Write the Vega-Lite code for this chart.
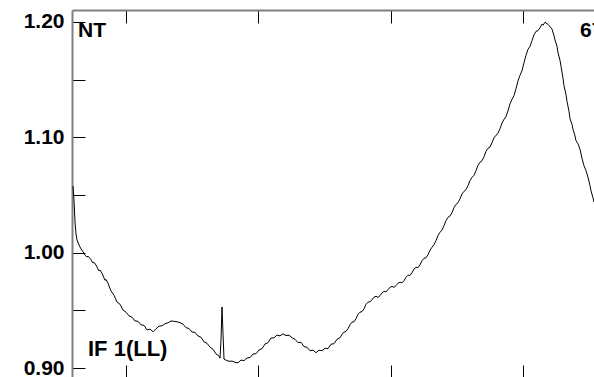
{
  "$schema": "https://vega.github.io/schema/vega-lite/v6.json",
  "autosize": "none",
  "padding": {"left": 72, "top": 10, "right": 0, "bottom": 0},
  "width": 522,
  "height": 367,
  "background": "white",
  "title": {"text": "Normalised spectrum with bandpass applied", "anchor": "start", "dx": -90, "offset": 5, "baseline": "alphabetic", "fontSize": 15, "fontWeight": "bold", "font": "Liberation Sans", "color": "black"},
  "config": {"view": {"stroke": null}, "font": "Liberation Sans"},
  "datasets": {
    "spectrum": [
      {"channel": 1, "ratio": 1.0578}, {"channel": 2, "ratio": 1.0457}, {"channel": 3, "ratio": 1.0266},
      {"channel": 4, "ratio": 1.0162}, {"channel": 5, "ratio": 1.0110}, {"channel": 7, "ratio": 1.0067},
      {"channel": 9, "ratio": 1.0032}, {"channel": 12, "ratio": 0.9995}, {"channel": 13, "ratio": 0.9978},
      {"channel": 15, "ratio": 0.9962}, {"channel": 16, "ratio": 0.9969},
      {"channel": 18, "ratio": 0.9952}, {"channel": 21, "ratio": 0.9910}, {"channel": 22, "ratio": 0.9917}, {"channel": 24, "ratio": 0.9893},
      {"channel": 27, "ratio": 0.9841}, {"channel": 28, "ratio": 0.9849}, {"channel": 30, "ratio": 0.9822}, {"channel": 33, "ratio": 0.9760},
      {"channel": 34, "ratio": 0.9768}, {"channel": 36, "ratio": 0.9735}, {"channel": 39, "ratio": 0.9668}, {"channel": 42, "ratio": 0.9631},
      {"channel": 45, "ratio": 0.9572}, {"channel": 48, "ratio": 0.9553}, {"channel": 51, "ratio": 0.9503},
      {"channel": 54, "ratio": 0.9484}, {"channel": 57, "ratio": 0.9452}, {"channel": 60, "ratio": 0.9441},
      {"channel": 63, "ratio": 0.9408}, {"channel": 66, "ratio": 0.9405}, {"channel": 69, "ratio": 0.9374},
      {"channel": 72, "ratio": 0.9370}, {"channel": 75, "ratio": 0.9330}, {"channel": 78, "ratio": 0.9338},
      {"channel": 81, "ratio": 0.9314}, {"channel": 84, "ratio": 0.9340}, {"channel": 87, "ratio": 0.9363},
      {"channel": 90, "ratio": 0.9366}, {"channel": 93, "ratio": 0.9384}, {"channel": 96, "ratio": 0.9392},
      {"channel": 99, "ratio": 0.9408}, {"channel": 102, "ratio": 0.9405}, {"channel": 105, "ratio": 0.9401},
      {"channel": 108, "ratio": 0.9393}, {"channel": 111, "ratio": 0.9380}, {"channel": 114, "ratio": 0.9349},
      {"channel": 117, "ratio": 0.9343}, {"channel": 120, "ratio": 0.9312}, {"channel": 123, "ratio": 0.9309},
      {"channel": 126, "ratio": 0.9278}, {"channel": 129, "ratio": 0.9266}, {"channel": 132, "ratio": 0.9227},
      {"channel": 135, "ratio": 0.9214}, {"channel": 138, "ratio": 0.9181}, {"channel": 141, "ratio": 0.9163},
      {"channel": 144, "ratio": 0.9122}, {"channel": 147, "ratio": 0.9104}, {"channel": 148, "ratio": 0.9085},
      {"channel": 149, "ratio": 0.9243}, {"channel": 150, "ratio": 0.9529}, {"channel": 151, "ratio": 0.9300},
      {"channel": 152, "ratio": 0.9078}, {"channel": 154, "ratio": 0.9068}, {"channel": 157, "ratio": 0.9058},
      {"channel": 160, "ratio": 0.9060}, {"channel": 163, "ratio": 0.9050}, {"channel": 166, "ratio": 0.9045},
      {"channel": 169, "ratio": 0.9069}, {"channel": 172, "ratio": 0.9064}, {"channel": 175, "ratio": 0.9087},
      {"channel": 178, "ratio": 0.9090}, {"channel": 181, "ratio": 0.9121}, {"channel": 184, "ratio": 0.9124},
      {"channel": 187, "ratio": 0.9156}, {"channel": 190, "ratio": 0.9168}, {"channel": 193, "ratio": 0.9208},
      {"channel": 196, "ratio": 0.9219}, {"channel": 199, "ratio": 0.9260}, {"channel": 202, "ratio": 0.9262},
      {"channel": 205, "ratio": 0.9285}, {"channel": 208, "ratio": 0.9279}, {"channel": 211, "ratio": 0.9296},
      {"channel": 214, "ratio": 0.9281}, {"channel": 217, "ratio": 0.9284}, {"channel": 220, "ratio": 0.9263},
      {"channel": 223, "ratio": 0.9249}, {"channel": 226, "ratio": 0.9220}, {"channel": 229, "ratio": 0.9223},
      {"channel": 232, "ratio": 0.9185}, {"channel": 235, "ratio": 0.9180}, {"channel": 238, "ratio": 0.9150},
      {"channel": 241, "ratio": 0.9155}, {"channel": 244, "ratio": 0.9133}, {"channel": 247, "ratio": 0.9154},
      {"channel": 250, "ratio": 0.9150}, {"channel": 253, "ratio": 0.9171}, {"channel": 256, "ratio": 0.9168},
      {"channel": 259, "ratio": 0.9206}, {"channel": 262, "ratio": 0.9211}, {"channel": 265, "ratio": 0.9249},
      {"channel": 268, "ratio": 0.9263}, {"channel": 270, "ratio": 0.9292}, {"channel": 272, "ratio": 0.9311}, {"channel": 274, "ratio": 0.9318}, {"channel": 276, "ratio": 0.9341},
      {"channel": 278, "ratio": 0.9375}, {"channel": 280, "ratio": 0.9397}, {"channel": 282, "ratio": 0.9401}, {"channel": 284, "ratio": 0.9428}, {"channel": 286, "ratio": 0.9466}, {"channel": 288, "ratio": 0.9484},
      {"channel": 290, "ratio": 0.9489}, {"channel": 292, "ratio": 0.9513}, {"channel": 294, "ratio": 0.9552}, {"channel": 296, "ratio": 0.9571}, {"channel": 298, "ratio": 0.9575}, {"channel": 300, "ratio": 0.9591},
      {"channel": 302, "ratio": 0.9614}, {"channel": 304, "ratio": 0.9622}, {"channel": 306, "ratio": 0.9612}, {"channel": 308, "ratio": 0.9627}, {"channel": 310, "ratio": 0.9651}, {"channel": 312, "ratio": 0.9665},
      {"channel": 314, "ratio": 0.9660}, {"channel": 316, "ratio": 0.9679}, {"channel": 318, "ratio": 0.9700}, {"channel": 320, "ratio": 0.9708}, {"channel": 322, "ratio": 0.9699}, {"channel": 324, "ratio": 0.9714},
      {"channel": 326, "ratio": 0.9735}, {"channel": 328, "ratio": 0.9744}, {"channel": 330, "ratio": 0.9739}, {"channel": 332, "ratio": 0.9756}, {"channel": 334, "ratio": 0.9787}, {"channel": 336, "ratio": 0.9805},
      {"channel": 338, "ratio": 0.9803}, {"channel": 340, "ratio": 0.9826}, {"channel": 342, "ratio": 0.9858}, {"channel": 344, "ratio": 0.9873}, {"channel": 346, "ratio": 0.9870}, {"channel": 348, "ratio": 0.9895},
      {"channel": 350, "ratio": 0.9930}, {"channel": 352, "ratio": 0.9951}, {"channel": 354, "ratio": 0.9955}, {"channel": 356, "ratio": 0.9983}, {"channel": 358, "ratio": 1.0021}, {"channel": 360, "ratio": 1.0047},
      {"channel": 362, "ratio": 1.0069}, {"channel": 364, "ratio": 1.0104}, {"channel": 366, "ratio": 1.0149}, {"channel": 368, "ratio": 1.0177}, {"channel": 370, "ratio": 1.0196}, {"channel": 372, "ratio": 1.0234},
      {"channel": 374, "ratio": 1.0278}, {"channel": 376, "ratio": 1.0307}, {"channel": 378, "ratio": 1.0318}, {"channel": 380, "ratio": 1.0347}, {"channel": 382, "ratio": 1.0391}, {"channel": 384, "ratio": 1.0419},
      {"channel": 386, "ratio": 1.0433}, {"channel": 388, "ratio": 1.0468}, {"channel": 390, "ratio": 1.0509}, {"channel": 392, "ratio": 1.0532}, {"channel": 394, "ratio": 1.0547}, {"channel": 396, "ratio": 1.0581},
      {"channel": 398, "ratio": 1.0625}, {"channel": 400, "ratio": 1.0653}, {"channel": 402, "ratio": 1.0671}, {"channel": 404, "ratio": 1.0711}, {"channel": 406, "ratio": 1.0756}, {"channel": 408, "ratio": 1.0784},
      {"channel": 410, "ratio": 1.0797}, {"channel": 412, "ratio": 1.0832}, {"channel": 414, "ratio": 1.0879}, {"channel": 416, "ratio": 1.0905}, {"channel": 418, "ratio": 1.0916}, {"channel": 420, "ratio": 1.0954},
      {"channel": 422, "ratio": 1.0996}, {"channel": 424, "ratio": 1.1018}, {"channel": 426, "ratio": 1.1035}, {"channel": 428, "ratio": 1.1075}, {"channel": 430, "ratio": 1.1124}, {"channel": 432, "ratio": 1.1156},
      {"channel": 434, "ratio": 1.1180}, {"channel": 436, "ratio": 1.1231}, {"channel": 438, "ratio": 1.1290}, {"channel": 440, "ratio": 1.1330}, {"channel": 442, "ratio": 1.1362}, {"channel": 444, "ratio": 1.1422},
      {"channel": 446, "ratio": 1.1490}, {"channel": 448, "ratio": 1.1538}, {"channel": 450, "ratio": 1.1578}, {"channel": 452, "ratio": 1.1647}, {"channel": 454, "ratio": 1.1712}, {"channel": 456, "ratio": 1.1763},
      {"channel": 458, "ratio": 1.1789}, {"channel": 460, "ratio": 1.1838}, {"channel": 462, "ratio": 1.1889}, {"channel": 464, "ratio": 1.1919}, {"channel": 466, "ratio": 1.1925}, {"channel": 468, "ratio": 1.1950},
      {"channel": 470, "ratio": 1.1981}, {"channel": 471, "ratio": 1.1972}, {"channel": 473, "ratio": 1.1998}, {"channel": 474, "ratio": 1.1991}, {"channel": 476, "ratio": 1.1979}, {"channel": 477, "ratio": 1.1968},
      {"channel": 479, "ratio": 1.1951}, {"channel": 480, "ratio": 1.1938}, {"channel": 482, "ratio": 1.1881}, {"channel": 483, "ratio": 1.1844}, {"channel": 485, "ratio": 1.1790}, {"channel": 486, "ratio": 1.1733},
      {"channel": 488, "ratio": 1.1668}, {"channel": 489, "ratio": 1.1617}, {"channel": 491, "ratio": 1.1511}, {"channel": 492, "ratio": 1.1447}, {"channel": 494, "ratio": 1.1371}, {"channel": 495, "ratio": 1.1312},
      {"channel": 497, "ratio": 1.1225}, {"channel": 498, "ratio": 1.1161}, {"channel": 500, "ratio": 1.1112}, {"channel": 501, "ratio": 1.1070}, {"channel": 503, "ratio": 1.1012}, {"channel": 504, "ratio": 1.0971},
      {"channel": 506, "ratio": 1.0944}, {"channel": 508, "ratio": 1.0896}, {"channel": 510, "ratio": 1.0817}, {"channel": 512, "ratio": 1.0754}, {"channel": 514, "ratio": 1.0712}, {"channel": 516, "ratio": 1.0653},
      {"channel": 518, "ratio": 1.0580}, {"channel": 519, "ratio": 1.0537}, {"channel": 521, "ratio": 1.0475}, {"channel": 522, "ratio": 1.0439}
    ],
    "labels": [
      {"channel": 6, "ratio": 1.2017, "label": "NT", "pos": "left"},
      {"channel": 508, "ratio": 1.2017, "label": "67", "pos": "left"},
      {"channel": 16, "ratio": 0.9104, "label": "IF 1(LL)", "pos": "bottom"}
    ]
  },
  "resolve": {"axis": {"x": "independent"}},
  "layer": [
    {
      "data": {"name": "spectrum"},
      "mark": {"type": "line", "color": "black", "strokeWidth": 1, "clip": true},
      "encoding": {
        "x": {"field": "channel", "type": "quantitative",
              "scale": {"domain": [0, 522], "nice": false, "zero": false},
              "axis": {"orient": "bottom", "values": [54, 186, 319, 451], "labels": false, "domain": false,
                       "grid": false, "title": null, "tickSize": -12, "tickColor": "black", "tickWidth": 1}},
        "y": {"field": "ratio", "type": "quantitative",
              "scale": {"domain": [0.8922, 1.2104], "nice": false, "zero": false},
              "axis": {"orient": "left", "values": [0.9, 0.95, 1.0, 1.05, 1.1, 1.15, 1.2], "grid": false,
                       "title": null, "format": ".2f",
                       "labelExpr": "round(datum.value*100) % 10 == 0 ? datum.label : ''",
                       "tickSize": -13, "tickColor": "black", "tickWidth": 1,
                       "domainColor": "#808080", "domainWidth": 2,
                       "labelFont": "Liberation Sans", "labelFontSize": 21, "labelFontWeight": "bold",
                       "labelColor": "black", "labelPadding": 21, "labelBaseline": "middle"}}
      }
    },
    {
      "data": {"name": "labels"},
      "mark": {"type": "text", "align": "left", "baseline": "top", "font": "Liberation Sans", "fontSize": 21, "fontWeight": "bold", "color": "black"},
      "transform": [{"filter": "datum.pos == 'left'"}],
      "encoding": {
        "x": {"field": "channel", "type": "quantitative",
              "scale": {"domain": [0, 522], "nice": false, "zero": false},
              "axis": {"orient": "top", "values": [54, 186, 319, 451], "labels": false, "grid": false,
                       "title": null, "tickSize": -13, "tickColor": "black", "tickWidth": 1,
                       "domainColor": "#808080", "domainWidth": 2}},
        "y": {"field": "ratio", "type": "quantitative"},
        "text": {"field": "label"}
      }
    },
    {
      "data": {"name": "labels"},
      "mark": {"type": "text", "align": "left", "baseline": "alphabetic", "font": "Liberation Sans", "fontSize": 22, "fontWeight": "bold", "color": "black"},
      "transform": [{"filter": "datum.pos == 'bottom'"}],
      "encoding": {
        "x": {"field": "channel", "type": "quantitative", "axis": null},
        "y": {"field": "ratio", "type": "quantitative"},
        "text": {"field": "label"}
      }
    }
  ]
}
